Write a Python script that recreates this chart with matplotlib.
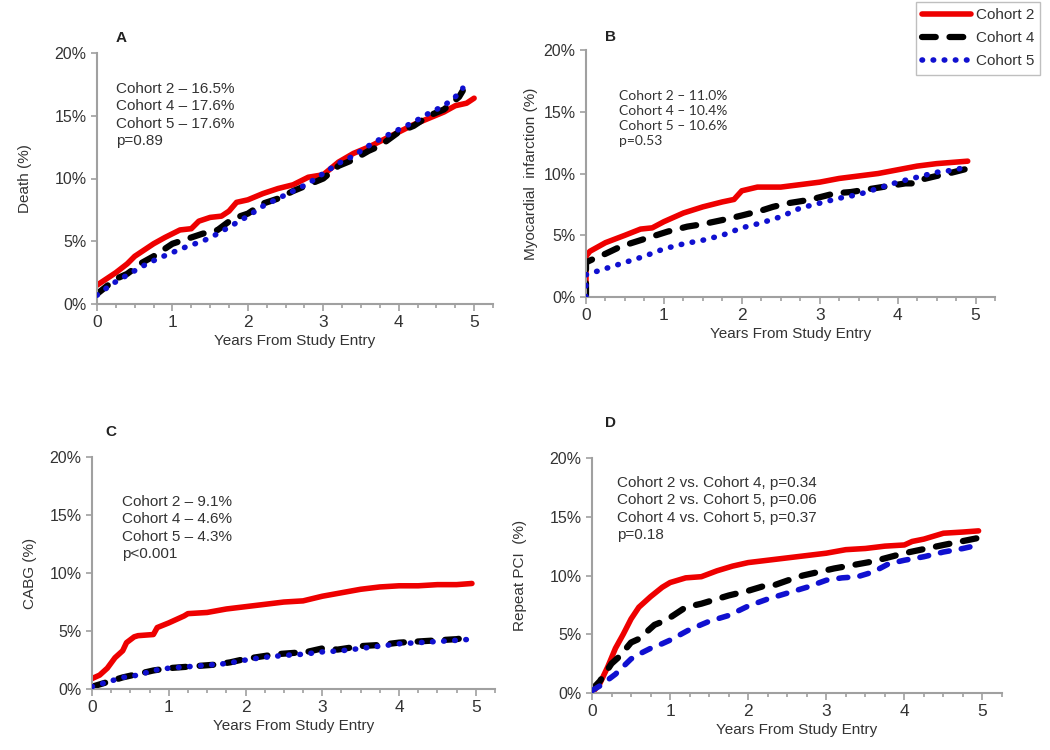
import matplotlib
matplotlib.use("Agg")
import matplotlib.pyplot as plt
from matplotlib.ticker import MultipleLocator, FuncFormatter
from matplotlib.lines import Line2D

plt.rcParams['font.family'] = ['Liberation Sans', 'DejaVu Sans']

# ---- Panel A: Death ----
a_c2_x = [0, 0.1, 0.25, 0.4, 0.5, 0.75, 0.9, 1.0, 1.1, 1.25, 1.35, 1.5, 1.65, 1.75, 1.85, 2.0, 2.2, 2.4, 2.6, 2.8, 3.0, 3.2, 3.4, 3.6, 3.8, 4.0, 4.2, 4.4, 4.6, 4.75, 4.9, 5.0]
a_c2_y = [1.5, 1.9, 2.5, 3.2, 3.8, 4.8, 5.3, 5.6, 5.9, 6.0, 6.6, 6.9, 7.0, 7.4, 8.1, 8.3, 8.8, 9.2, 9.5, 10.1, 10.3, 11.3, 12.0, 12.5, 13.1, 13.7, 14.3, 14.8, 15.3, 15.8, 16.0, 16.4]
a_c4_x = [0, 0.25, 0.4, 0.6, 0.75, 0.9, 1.0, 1.15, 1.4, 1.6, 1.8, 2.0, 2.2, 2.4, 2.6, 2.8, 3.0, 3.2, 3.4, 3.6, 3.75, 4.0, 4.2, 4.4, 4.6, 4.8, 4.85]
a_c4_y = [0.8, 2.0, 2.4, 3.3, 3.8, 4.4, 4.8, 5.1, 5.6, 5.9, 6.8, 7.2, 8.0, 8.4, 9.0, 9.5, 10.0, 11.0, 11.5, 12.2, 12.6, 13.7, 14.2, 15.0, 15.5, 16.5, 17.0]
a_c5_x = [0, 0.2, 0.4, 0.6, 0.8, 1.0, 1.2, 1.4, 1.6, 1.8, 2.0, 2.2, 2.4, 2.6, 2.8, 3.0, 3.2, 3.4, 3.6, 3.8, 4.0, 4.2, 4.4, 4.6, 4.75, 4.85]
a_c5_y = [0.7, 1.6, 2.3, 3.0, 3.6, 4.1, 4.6, 5.0, 5.6, 6.3, 7.0, 7.8, 8.4, 9.0, 9.6, 10.4, 11.2, 11.8, 12.6, 13.3, 13.9, 14.5, 15.2, 15.8, 16.5, 17.2]

# ---- Panel B: Myocardial infarction ----
b_c2_x = [0, 0, 0.05, 0.25, 0.5, 0.7, 0.85, 1.0, 1.25, 1.5, 1.75, 1.9, 2.0, 2.2, 2.5, 2.75, 3.0, 3.25, 3.5, 3.75, 4.0, 4.25, 4.5, 4.7, 4.9]
b_c2_y = [0, 3.3, 3.7, 4.4, 5.0, 5.5, 5.6, 6.1, 6.8, 7.3, 7.7, 7.9, 8.6, 8.9, 8.9, 9.1, 9.3, 9.6, 9.8, 10.0, 10.3, 10.6, 10.8, 10.9, 11.0]
b_c4_x = [0, 0, 0.1, 0.25, 0.45, 0.65, 0.9, 1.05, 1.3, 1.5, 1.8, 2.0, 2.25, 2.4, 2.6, 2.8, 2.95, 3.2, 3.4, 3.7, 3.9, 4.1, 4.2, 4.3, 4.5, 4.65, 4.9]
b_c4_y = [0, 2.8, 3.1, 3.5, 4.1, 4.5, 5.0, 5.3, 5.7, 5.9, 6.3, 6.6, 7.0, 7.3, 7.6, 7.8, 8.0, 8.4, 8.5, 8.8, 9.0, 9.2, 9.2, 9.5, 9.8, 10.0, 10.4]
b_c5_x = [0, 0, 0.25, 0.5, 0.75, 1.0, 1.25, 1.5, 1.75, 2.0, 2.25, 2.5, 2.75, 3.0, 3.25, 3.5, 3.75, 4.0, 4.25, 4.5, 4.75, 4.9]
b_c5_y = [0, 1.8, 2.3, 2.8, 3.3, 3.9, 4.3, 4.6, 5.0, 5.6, 6.0, 6.5, 7.2, 7.6, 8.0, 8.3, 8.8, 9.3, 9.7, 10.1, 10.3, 10.6]

# ---- Panel C: CABG ----
c_c2_x = [0, 0.1, 0.2, 0.3, 0.4, 0.45, 0.55, 0.6, 0.8, 0.85, 1.0, 1.1, 1.2, 1.25, 1.5, 1.75, 2.0, 2.25, 2.5, 2.75, 3.0, 3.25, 3.5, 3.75, 4.0, 4.25, 4.5, 4.75, 4.95]
c_c2_y = [0.9, 1.2, 1.8, 2.7, 3.3, 4.0, 4.5, 4.6, 4.7, 5.3, 5.7, 6.0, 6.3, 6.5, 6.6, 6.9, 7.1, 7.3, 7.5, 7.6, 8.0, 8.3, 8.6, 8.8, 8.9, 8.9, 9.0, 9.0, 9.1]
c_c4_x = [0, 0.2, 0.4, 0.6, 0.8, 1.0, 1.2, 1.4, 1.6, 1.8, 2.0, 2.2, 2.4, 2.6, 2.8, 3.0, 3.2, 3.5, 3.75, 4.0, 4.25, 4.5, 4.75, 4.95]
c_c4_y = [0.2, 0.6, 1.0, 1.3, 1.6, 1.8, 1.9, 2.0, 2.1, 2.3, 2.6, 2.8, 3.0, 3.1, 3.2, 3.5, 3.4, 3.7, 3.8, 4.0, 4.1, 4.2, 4.3, 4.5]
c_c5_x = [0, 0.2, 0.4, 0.6, 0.8, 1.0, 1.4, 1.75, 2.0, 2.2, 2.5, 2.75, 3.0, 3.25, 3.5, 3.75, 4.0, 4.25, 4.5, 4.75, 4.95]
c_c5_y = [0.2, 0.6, 1.0, 1.2, 1.6, 1.8, 2.0, 2.2, 2.5, 2.7, 2.9, 3.0, 3.2, 3.3, 3.5, 3.7, 3.9, 4.0, 4.1, 4.2, 4.3]

# ---- Panel D: Repeat PCI ----
d_c2_x = [0, 0.1, 0.2, 0.3, 0.4, 0.5, 0.6, 0.75, 0.9, 1.0, 1.2, 1.4, 1.6, 1.8, 2.0, 2.25, 2.5, 2.75, 3.0, 3.25, 3.5, 3.75, 4.0, 4.1, 4.25, 4.4, 4.5, 4.75, 4.95]
d_c2_y = [0, 0.8, 2.2, 3.8, 5.0, 6.3, 7.3, 8.2, 9.0, 9.4, 9.8, 9.9, 10.4, 10.8, 11.1, 11.3, 11.5, 11.7, 11.9, 12.2, 12.3, 12.5, 12.6, 12.9, 13.1, 13.4, 13.6, 13.7, 13.8]
d_c4_x = [0, 0.1, 0.25, 0.35, 0.5, 0.6, 0.8, 0.95, 1.2, 1.4, 1.75, 2.0, 2.2, 2.3, 2.6, 2.7, 3.1, 3.6, 4.0, 4.5, 4.95]
d_c4_y = [0.3, 1.0, 2.5, 3.1, 4.3, 4.6, 5.8, 6.2, 7.3, 7.6, 8.3, 8.7, 9.1, 9.1, 9.8, 10.0, 10.6, 11.2, 11.9, 12.6, 13.2]
d_c5_x = [0, 0.1, 0.3, 0.5, 0.6, 0.75, 0.9, 1.0, 1.25, 1.5, 1.75, 2.0, 2.25, 2.5, 2.75, 3.0, 3.2, 3.4, 3.6, 3.8, 4.0, 4.25, 4.5, 4.75, 4.95]
d_c5_y = [0.2, 0.6, 1.6, 2.9, 3.3, 3.8, 4.2, 4.5, 5.4, 6.1, 6.6, 7.4, 8.0, 8.5, 9.0, 9.6, 9.8, 9.9, 10.3, 11.0, 11.3, 11.6, 12.0, 12.3, 12.6]

a_text = "Cohort 2 \u2013 16.5%\nCohort 4 \u2013 17.6%\nCohort 5 \u2013 17.6%\np=0.89"
b_text = "Cohort 2 \u2013 11.0%\nCohort 4 \u2013 10.4%\nCohort 5 \u2013 10.6%\np=0.53"
c_text = "Cohort 2 \u2013 9.1%\nCohort 4 \u2013 4.6%\nCohort 5 \u2013 4.3%\np<0.001"
d_text = "Cohort 2 vs. Cohort 4, p=0.34\nCohort 2 vs. Cohort 5, p=0.06\nCohort 4 vs. Cohort 5, p=0.37\np=0.18"

RED = "#ee0000"
BLUE = "#1010d0"
GRAY = "#a0a0a0"
TXT = "#333333"
DOTS = (0, (0.1, 1.9))
DASH = (0, (2.2, 2.2))

fig = plt.figure(figsize=(10.5, 7.5), dpi=100)

panels = [
    # rect, letter, letter pos, ylabel, ylabel pad, text, text pos, data, font, size, blue style
    ([0.0924, 0.5947, 0.3771, 0.3346], "A", (116, 38), "Death (%)", 16, a_text, (116, 82),
     (a_c2_x, a_c2_y, a_c4_x, a_c4_y, a_c5_x, a_c5_y), 'Liberation Sans', 11, DOTS),
    ([0.5581, 0.6040, 0.3895, 0.3293], "B", (605, 37), "Myocardial  infarction (%)", 4, b_text, (619, 90),
     (b_c2_x, b_c2_y, b_c4_x, b_c4_y, b_c5_x, b_c5_y), 'Lato', 10, DOTS),
    ([0.0876, 0.0813, 0.3838, 0.3093], "C", (105, 432), "CABG (%)", 9, c_text, (122, 495),
     (c_c2_x, c_c2_y, c_c4_x, c_c4_y, c_c5_x, c_c5_y), 'Liberation Sans', 11, DOTS),
    ([0.5638, 0.0760, 0.3905, 0.3133], "D", (605, 423), "Repeat PCI  (%)", 16, d_text, (617, 476),
     (d_c2_x, d_c2_y, d_c4_x, d_c4_y, d_c5_x, d_c5_y), 'Liberation Sans', 11, (0, (1.6, 2.2))),
]

for rect, letter, lpos, ylab, ypad, txt, tpos, data, tfont, tsize, bstyle in panels:
    ax = fig.add_axes(rect)
    x2, y2, x4, y4, x5, y5 = data
    ax.plot(x5, y5, color=BLUE, lw=4, linestyle=bstyle, dash_capstyle='round', zorder=3)
    ax.plot(x4, y4, color='black', lw=4.5, linestyle=DASH, dash_capstyle='round', zorder=2)
    ax.plot(x2, y2, color=RED, lw=4, solid_capstyle='round', zorder=1)
    ax.set_xlim(0, 5.25)
    ax.set_ylim(0, 20)
    ax.xaxis.set_major_locator(MultipleLocator(1))
    ax.xaxis.set_minor_locator(MultipleLocator(0.25))
    ax.yaxis.set_major_locator(MultipleLocator(5))
    ax.yaxis.set_major_formatter(FuncFormatter(lambda v, p: "%d%%" % v))
    for s in ['top', 'right']:
        ax.spines[s].set_visible(False)
    for s in ['left', 'bottom']:
        ax.spines[s].set_color(GRAY)
        ax.spines[s].set_linewidth(1.5)
    ax.tick_params(axis='x', which='both', direction='out', color=GRAY, width=1.2, labelsize=12.5, labelcolor=TXT)
    ax.tick_params(axis='x', which='major', length=5, pad=3)
    ax.tick_params(axis='x', which='minor', length=3)
    ax.tick_params(axis='y', direction='out', color=GRAY, width=1.2, length=4, labelsize=11.5, labelcolor=TXT)
    ax.set_xlabel("Years From Study Entry", fontsize=11, color=TXT, labelpad=3)
    ax.set_ylabel(ylab, fontsize=11, color=TXT, labelpad=ypad)
    fig.text(lpos[0] / 1050, 1 - lpos[1] / 750, letter, fontsize=11, fontweight='bold',
             color='#222222', ha='left', va='center')
    fig.text(tpos[0] / 1050, 1 - tpos[1] / 750, txt, fontsize=tsize, family=tfont,
             color=TXT, ha='left', va='top', linespacing=1.3)

handles = [
    Line2D([], [], color=RED, lw=4, solid_capstyle='round'),
    Line2D([], [], color='black', lw=4.5, linestyle=DASH, dash_capstyle='round'),
    Line2D([], [], color=BLUE, lw=4, linestyle=DOTS, dash_capstyle='round'),
]
leg = fig.legend(handles, ["Cohort 2", "Cohort 4", "Cohort 5"], loc='upper right',
                 bbox_to_anchor=(1040 / 1050, 1 - 2 / 750), fontsize=11, frameon=True,
                 fancybox=False, edgecolor='#b0b0b0', handlelength=3.2, handletextpad=0.3,
                 labelspacing=0.6, borderpad=0.4, borderaxespad=0)
for t in leg.get_texts():
    t.set_color(TXT)

fig.savefig("out.png", dpi=100)
